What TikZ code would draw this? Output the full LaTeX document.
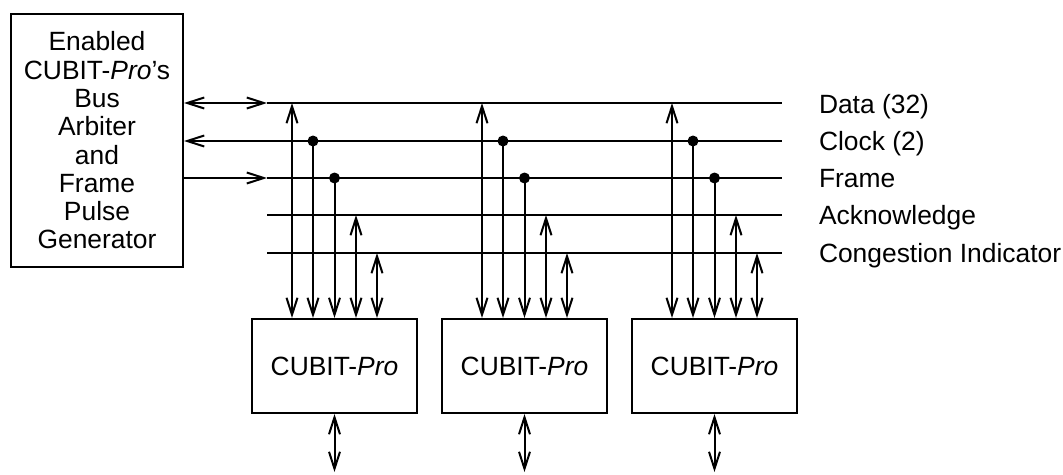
\documentclass[tikz,border=0pt]{standalone}
\usepackage{fontspec}
\setmainfont{Liberation Sans}
\usetikzlibrary{arrows.meta}
\begin{document}
\begin{tikzpicture}[x=1pt,y=-1pt,line width=2pt,
  >={Straight Barb[length=17pt,width=11pt]},
  bigfont/.style={font=\fontsize{26.4pt}{28.3pt}\selectfont},
  arbbox/.style={draw,bigfont,align=center,minimum width=172pt,minimum height=253pt,inner sep=0pt},
  cubox/.style={draw,bigfont,minimum width=165pt,minimum height=94pt,inner sep=0pt},
  buslabel/.style={bigfont,anchor=base west,inner sep=0pt},
  junction/.style={circle,fill=black,inner sep=0pt,minimum size=11pt}]
\useasboundingbox (0,0) rectangle (1063,474);

% arbiter
\node[arbbox] (arb) at (97,140.5) {Enabled\\CUBIT-\textit{Pro}’s\\Bus\\Arbiter\\and\\Frame\\Pulse\\Generator};

% bus coordinates
\coordinate (dataL) at (arb.east |- 0,103);
\coordinate (clkL)  at (arb.east |- 0,141);
\coordinate (frmL)  at (arb.east |- 0,178);
\coordinate (dataM) at (267,103);
\coordinate (frmM)  at (267,178);
\coordinate (ackL)  at (267,215);
\coordinate (conL)  at (267,253);
\coordinate (dataR) at (782,103);
\coordinate (clkR)  at (782,141);
\coordinate (frmR)  at (782,178);
\coordinate (ackR)  at (782,215);
\coordinate (conR)  at (782,253);

% buses
\draw[<->] (dataL) -- (dataM);
\draw (dataM) -- (dataR);
\draw[<-] (clkL) -- (clkR);
\draw[->] (frmL) -- (frmM);
\draw (frmM) -- (frmR);
\draw (ackL) -- (ackR);
\draw (conL) -- (conR);

% labels
\node[buslabel] (ldata) at (818,113) {Data (32)};
\node[buslabel] (lclk)  at (818,150.5) {Clock (2)};
\node[buslabel] (lfrm)  at (818,187.5) {Frame};
\node[buslabel] (lack)  at (818,224.5) {Acknowledge};
\node[buslabel] (lcon)  at (818,262.5) {Congestion Indicator};

% CUBIT-Pro units
\foreach \g/\cx in {1/334.5,2/524.5,3/714.5}{
  \node[cubox] (b\g) at (\cx,366) {CUBIT-\textit{Pro}};
  \coordinate (d\g) at (\cx-42.5,103);
  \node[junction] (c\g) at (\cx-21.5,141) {};
  \node[junction] (f\g) at (\cx,178) {};
  \coordinate (a\g) at (\cx+21.5,215);
  \coordinate (n\g) at (\cx+42.5,253);
  \coordinate (o\g) at (\cx,472);
  \draw[<->] (d\g) -- (d\g |- b\g.north);
  \draw[->] (c\g.center) -- (c\g |- b\g.north);
  \draw[->] (f\g.center) -- (f\g |- b\g.north);
  \draw[<->] (a\g) -- (a\g |- b\g.north);
  \draw[<->] (n\g) -- (n\g |- b\g.north);
  \draw[<->] (b\g.south) -- (o\g);
}
\end{tikzpicture}
\end{document}
